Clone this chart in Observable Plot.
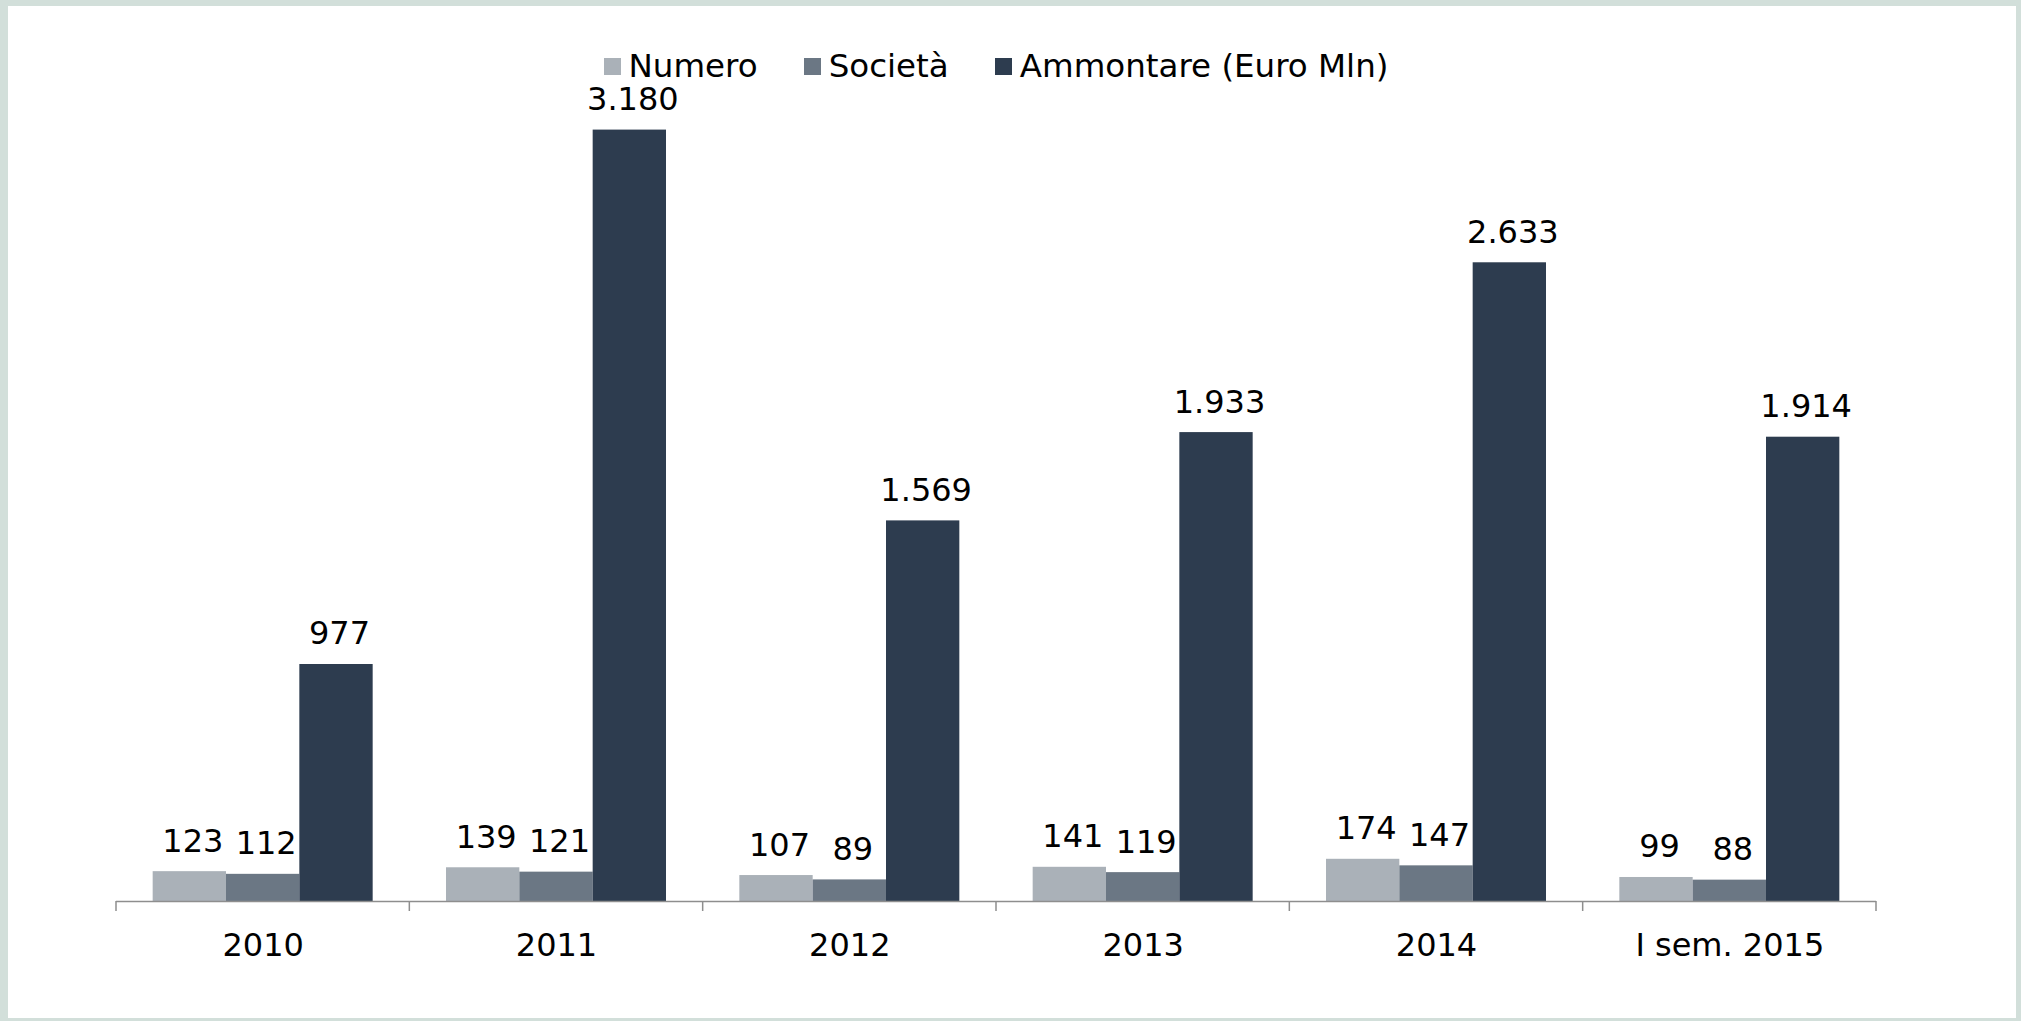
<!DOCTYPE html>
<html>
<head>
<meta charset="utf-8">
<script src="https://cdn.jsdelivr.net/npm/d3@7"></script>
<script src="https://cdn.jsdelivr.net/npm/@observablehq/plot@0.6"></script>
<style>
  html, body { margin: 0; padding: 0; }
  body { width: 2021px; height: 1021px; background: #d2dfda; position: relative; overflow: hidden;
         font-family: "DejaVu Sans", Verdana, sans-serif; }
  #panel { position: absolute; left: 8px; top: 6px; width: 2008px; height: 1012px; background: #ffffff; }
  #legend { position: absolute; left: 116px; width: 1760px; top: 48px; display: flex; justify-content: center;
            font-size: 32.5px; line-height: 37px; color: #000; }
  .item { display: flex; align-items: center; margin: 0 23px; }
  .sw { width: 17px; height: 17px; margin-right: 8px; }
  #chart { position: absolute; left: 0; top: 80px; }
</style>
</head>
<body>
<div id="panel"></div>
<div id="legend"></div>
<div id="chart"></div>
<script>
// ---- data ----
const categories = ["2010", "2011", "2012", "2013", "2014", "I sem. 2015"];
const seriesNames = ["Numero", "Società", "Ammontare (Euro Mln)"];
const numero    = [123, 139, 107, 141, 174, 99];
const societa   = [112, 121, 89, 119, 147, 88];
const ammontare = [977, 3180, 1569, 1933, 2633, 1914];
const seriesColors = ["#aab1b8", "#6b7784", "#2d3c4f"];

const seriesValues = [numero, societa, ammontare];
const data = categories.flatMap((c, i) =>
  seriesNames.map((s, j) => ({cat: c, series: s, value: seriesValues[j][i]})));

const fmt = d3.formatLocale({decimal: ",", thousands: ".", grouping: [3], currency: ["€", ""]}).format(",");

// ---- legend ----
const legend = document.getElementById("legend");
seriesNames.forEach((s, j) => {
  const item = document.createElement("div");
  item.className = "item";
  const sw = document.createElement("span");
  sw.className = "sw";
  sw.style.background = seriesColors[j];
  const t = document.createElement("span");
  t.textContent = s;
  item.appendChild(sw); item.appendChild(t);
  legend.appendChild(item);
});

// ---- chart ----
const chart = Plot.plot({
  width: 2021,
  height: 900,
  marginLeft: 116,
  marginRight: 145,
  marginTop: 20,
  marginBottom: 79,
  style: {fontFamily: "DejaVu Sans, Verdana, sans-serif", fontSize: "32px", color: "#000", background: "transparent", overflow: "visible"},
  fx: {domain: categories, padding: 0, round: false, label: null, axis: "bottom", tickSize: 0, tickPadding: 32},
  x: {domain: seriesNames, axis: null, paddingInner: 0, paddingOuter: 0.5, round: false},
  y: {domain: [0, 3302], axis: null},
  color: {domain: seriesNames, range: seriesColors},
  marks: [
    Plot.barY(data, {fx: "cat", x: "series", y: "value", fill: "series"}),
    Plot.ruleY([0], {stroke: "#8e8e8e", strokeWidth: 1.5}),
    Plot.text(data, {fx: "cat", x: "series", y: "value", text: d => fmt(d.value),
                     lineAnchor: "bottom", dy: -20, dx: 3, fill: "#000"})
  ]
});
document.getElementById("chart").appendChild(chart);

// category boundary ticks, derived from the fx scale
const fxs = chart.scale("fx");
const ys = chart.scale("y");
const y0 = ys.range[0];
const svg = d3.select(chart.tagName.toLowerCase() === "svg" ? chart : chart.querySelector("svg"));
const bounds = d3.range(categories.length + 1).map(i => fxs.range[0] + i * fxs.step);
svg.append("g").attr("stroke", "#8e8e8e").attr("stroke-width", 1.5)
  .selectAll("line").data(bounds).join("line")
  .attr("x1", d => d).attr("x2", d => d).attr("y1", y0).attr("y2", y0 + 10);
</script>
</body>
</html>
